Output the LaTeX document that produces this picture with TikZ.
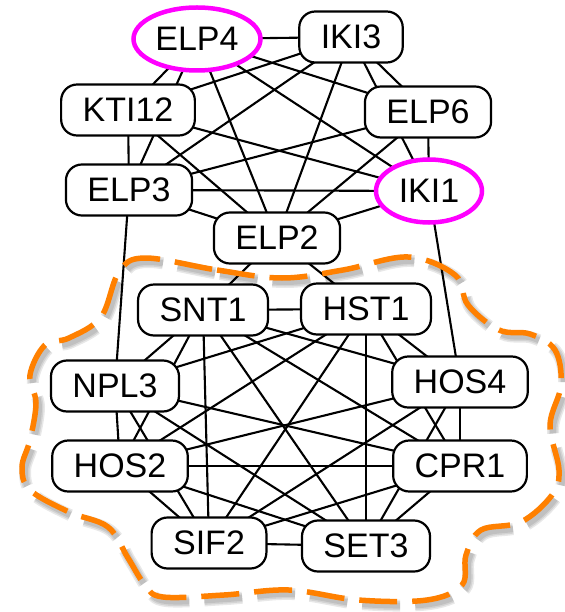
\documentclass[tikz,border=0pt]{standalone}
\usepackage{fontspec}
\setmainfont{Liberation Sans}
\usetikzlibrary{shapes.geometric}
\pgfdeclarelayer{background}
\pgfsetlayers{background,main}
\definecolor{hubpink}{RGB}{255,0,255}
\definecolor{blobor}{RGB}{255,128,0}

\begin{document}
\begin{tikzpicture}[x=1pt,y=-1pt,
  gene/.style={draw, line width=2.2pt, rounded corners=16pt, fill=white,
    minimum height=51pt, inner xsep=21.5pt, inner ysep=0pt,
    font=\fontsize{34}{40}\selectfont},
  hub/.style={ellipse, draw=hubpink, line width=4.5pt, fill=white,
    minimum height=63pt, inner sep=0pt, font=\fontsize{34}{40}\selectfont},
  link/.style={line width=2.1pt},
  blob/.style={draw=blobor, line width=5.5pt, dash pattern=on 38pt off 15pt},
  blobshade/.style={draw=black, opacity=0.09, dash pattern=on 38pt off 15pt}
]
\useasboundingbox (0,0) rectangle (564,612);

% Elongator complex
\node[hub, minimum width=127pt] (elp4) at (197,39) {ELP4};
\node[gene] (iki3) at (351,37) {IKI3};
\node[gene] (kti12) at (128,110) {KTI12};
\node[gene] (elp6) at (428,112) {ELP6};
\node[gene] (elp3) at (129,190) {ELP3};
\node[hub, minimum width=106pt] (iki1) at (429,191) {IKI1};
\node[gene] (elp2) at (277,238) {ELP2};

% chromatin / histone deacetylase group
\node[gene] (snt1) at (203,310) {SNT1};
\node[gene] (hst1) at (366,309) {HST1};
\node[gene] (npl3) at (115,386) {NPL3};
\node[gene] (hos4) at (460,382) {HOS4};
\node[gene] (hos2) at (120,466) {HOS2};
\node[gene] (cpr1) at (460,466) {CPR1};
\node[gene] (sif2) at (209,543) {SIF2};
\node[gene] (set3) at (366,546) {SET3};

\begin{pgfonlayer}{background}
  \foreach \a/\b in {elp4/iki3, elp4/elp6, elp4/iki1, elp4/elp2, elp4/elp3, elp4/kti12,
      iki3/elp6, iki3/iki1, iki3/elp2, iki3/elp3, iki3/kti12,
      elp6/iki1, elp6/elp2, elp6/elp3,
      iki1/elp2, iki1/elp3, iki1/kti12,
      elp2/elp3, elp2/kti12, elp3/kti12,
      snt1/hst1, snt1/npl3, snt1/hos4, snt1/hos2, snt1/cpr1, snt1/sif2, snt1/set3,
      hst1/npl3, hst1/hos4, hst1/hos2, hst1/cpr1, hst1/sif2, hst1/set3,
      npl3/hos2, npl3/cpr1, npl3/sif2, npl3/set3,
      hos4/hos2, hos4/cpr1, hos4/sif2, hos4/set3,
      hos2/cpr1, hos2/sif2, hos2/set3,
      cpr1/sif2, cpr1/set3, sif2/set3,
      elp3/npl3, iki1/hos4, elp2/snt1, elp2/hst1}
    \draw[link] (\a.center) -- (\b.center);
\end{pgfonlayer}

% dashed outline around the lower cluster, with a soft shadow
\def\blobpath{plot[smooth cycle, tension=0.6] coordinates {
  (145,258) (217,270) (282,278) (343,270) (408,257) (455,275) (468,305)
  (499,330) (530,334) (555,350) (561,385) (550,425) (559,470) (552,495)
  (521,522) (481,530) (466,555) (462,585) (427,600) (358,600) (289,590)
  (224,595) (163,597) (145,585) (128,558) (108,527) (69,512) (30,490)
  (22,467) (30,440) (36,403) (30,375) (45,345) (69,338) (101,317) (119,272)}}
\foreach \w in {12,9,6}
  \draw[blobshade, line width=\w pt, shift={(3,4)}] \blobpath;
\draw[blob] \blobpath;
\end{tikzpicture}
\end{document}
